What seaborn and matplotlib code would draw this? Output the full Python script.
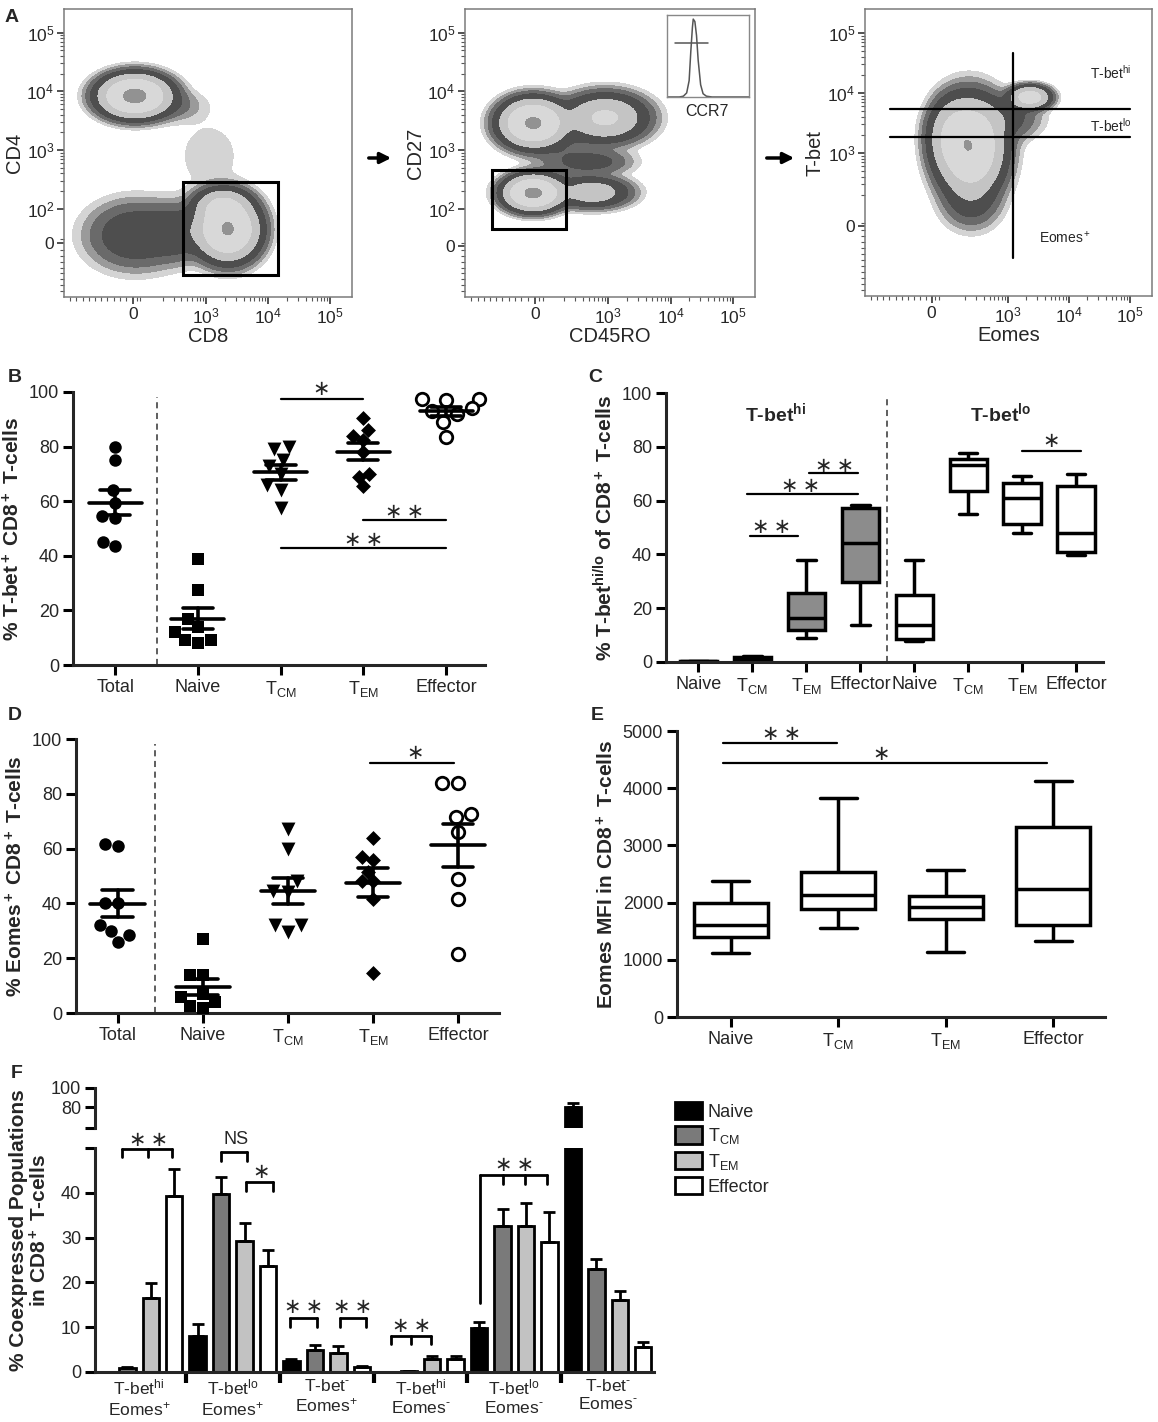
import numpy as np
import pandas as pd
import matplotlib
matplotlib.use("Agg")
import matplotlib.pyplot as plt
import seaborn as sns
from matplotlib.patches import Rectangle, Patch, FancyArrowPatch

sns.set_style("ticks")
plt.rcParams['font.family'] = ['Liberation Sans', 'DejaVu Sans']
plt.rcParams['mathtext.fontset'] = 'custom'
plt.rcParams['mathtext.rm'] = 'Liberation Sans'
plt.rcParams['mathtext.it'] = 'Liberation Sans:italic'
plt.rcParams['mathtext.bf'] = 'Liberation Sans:bold'
plt.rcParams['mathtext.default'] = 'regular'

W, H = 1158, 1422

# ---------------- data: panel A (flow populations, decade units) ----------------
a1_x = [1.85, 1.85, 3.35, 3.25, 2.55, 3.05, 2.5]
a1_y = [3.92, 1.55, 1.65, 2.05, 1.6, 2.9, 3.75]
a1_sx = [0.27, 0.4, 0.24, 0.22, 0.28, 0.38, 0.28]
a1_sy = [0.17, 0.3, 0.25, 0.15, 0.25, 0.45, 0.15]
a1_pk = [1.0, 0.07, 0.85, 0.25, 0.06, 0.005, 0.015]

a2_x = [1.8, 2.95, 1.8, 2.75, 2.8, 2.3]
a2_y = [3.46, 3.55, 2.27, 2.28, 2.8, 2.9]
a2_sx = [0.25, 0.33, 0.22, 0.3, 0.32, 0.3]
a2_sy = [0.19, 0.2, 0.14, 0.13, 0.12, 0.3]
a2_pk = [0.9, 0.3, 0.95, 0.18, 0.04, 0.02]

a3_x = [2.39, 3.36, 2.95, 2.4, 2.1]
a3_y = [3.1, 3.93, 3.6, 2.2, 3.3]
a3_sx = [0.26, 0.16, 0.3, 0.25, 0.2]
a3_sy = [0.38, 0.09, 0.2, 0.25, 0.3]
a3_pk = [0.75, 0.45, 0.05, 0.04, 0.2]

ccr7_x = [0, 15, 20, 24, 27, 29, 31, 32, 34, 36, 38, 41, 44, 48, 55, 100]
ccr7_y = [0, 0, 1, 5, 20, 55, 85, 95, 92, 75, 45, 15, 4, 1, 0, 0]

# ---------------- data: panel B / D (per donor %) ----------------
cats5 = ['Total', 'Naive', 'TCM', 'TEM', 'Effector']
cat5_labels = ['Total', 'Naive', 'T$_{CM}$', 'T$_{EM}$', 'Effector']
b_total = [80, 75, 64, 59.5, 54.5, 54, 43.5, 45]
b_naive = [39, 27.5, 17, 14, 12, 9, 9, 8]
b_tcm = [80, 79, 75, 73, 70, 66, 64, 57.5]
b_tem = [90.5, 86, 84, 82.5, 78, 70, 69, 65.5]
b_eff = [97.5, 97.5, 97, 94, 93, 92, 89, 83.5]

d_total = [61, 61.5, 40, 40, 30, 28.5, 26, 32]
d_naive = [27, 14, 14, 7, 6, 4, 2.5, 2]
d_tcm = [67, 60, 48, 44.5, 44, 32, 32, 29.5]
d_tem = [64, 57, 56, 51.5, 48, 48, 41.5, 14.5]
d_eff = [84, 84, 72.5, 71.5, 66, 49, 41.5, 21.5]

# ---------------- data: panel C (box five-number summaries) ----------------
c_cats = ['hi_Naive', 'hi_TCM', 'hi_TEM', 'hi_Eff', 'lo_Naive', 'lo_TCM', 'lo_TEM', 'lo_Eff']
c_labels = ['Naive', 'T$_{CM}$', 'T$_{EM}$', 'Effector'] * 2
c_min = [0.1, 0.8, 9, 13.7, 7.8, 54.9, 47.8, 39.8]
c_q1 = [0.15, 1.2, 12, 29.8, 8.7, 63.6, 51.3, 41]
c_med = [0.2, 1.5, 16.5, 44.1, 13.7, 73.3, 60.9, 47.8]
c_q3 = [0.25, 1.9, 25.5, 57.1, 24.8, 75.4, 66.7, 65.5]
c_max = [0.3, 2.3, 37.9, 58.4, 38.1, 77.6, 69.2, 69.9]

# ---------------- data: panel E (Eomes MFI five-number summaries) ----------------
e_cats = ['Naive', 'TCM', 'TEM', 'Effector']
e_labels = ['Naive', 'T$_{CM}$', 'T$_{EM}$', 'Effector']
e_min = [1116, 1552, 1128, 1337]
e_q1 = [1395, 1884, 1709, 1605]
e_med = [1610, 2134, 1930, 2233]
e_q3 = [2000, 2541, 2116, 3326]
e_max = [2378, 3820, 2570, 4128]

# ---------------- data: panel F (mean + SEM) ----------------
f_groups = ['hiE+', 'loE+', 'negE+', 'hiE-', 'loE-', 'negE-']
f_labels = ['T-bet$^{hi}$\nEomes$^{+}$', 'T-bet$^{lo}$\nEomes$^{+}$', 'T-bet$^{\u2010}$\nEomes$^{+}$',
            'T-bet$^{hi}$\nEomes$^{\u2010}$', 'T-bet$^{lo}$\nEomes$^{\u2010}$', 'T-bet$^{\u2010}$\nEomes$^{\u2010}$']
f_cells = ['Naive', 'T$_{CM}$', 'T$_{EM}$', 'Effector']
f_naive_mean = [0.1, 8.1, 2.5, 0.05, 9.9, 80]
f_naive_sem = [0, 2.6, 0.3, 0, 1.3, 4]
f_tcm_mean = [1.0, 39.7, 4.9, 0.15, 32.6, 23.1]
f_tcm_sem = [0.2, 3.9, 1.1, 0.05, 3.7, 2.1]
f_tem_mean = [16.5, 29.2, 4.3, 3.0, 32.6, 16.0]
f_tem_sem = [3.3, 4.1, 1.5, 0.6, 5.2, 2.0]
f_eff_mean = [39.3, 23.6, 1.1, 2.8, 29.0, 5.6]
f_eff_sem = [6.0, 3.7, 0.2, 0.7, 6.7, 1.2]
f_colors = ['black', '#7a7a7a', '#c2c2c2', 'white']

STAR = dict(family='DejaVu Sans', fontsize=15, ha='center', va='center')
S1 = '\u2217'
S2 = '\u2217\u2009\u2217'
LW = 2.2

fig = plt.figure(figsize=(W / 100, H / 100), dpi=100)


def px_axes(x0, y0, x1, y1):
    return fig.add_axes([x0 / W, 1 - y1 / H, (x1 - x0) / W, (y1 - y0) / H])


def flow_panel(ax, xs, ys, sx, sy, pk, xlim, ylim, zx, zy, ylabels):
    gx = np.linspace(xlim[0], xlim[1], 400)
    gy = np.linspace(ylim[0], ylim[1], 400)
    X, Y = np.meshgrid(gx, gy)
    Z = np.zeros_like(X)
    for x, y, a, b, p in zip(xs, ys, sx, sy, pk):
        Z += p * np.exp(-0.5 * (((X - x) / a) ** 2 + ((Y - y) / b) ** 2))
    ax.contourf(X, Y, Z, levels=[0.003, 0.007, 0.014, 0.03, 0.09, 0.25, 0.8, 100],
                colors=['#d4d4d4', '#9a9a9a', '#6a6a6a', '#4e4e4e', '#c4c4c4', '#d8d8d8', '#929292'])
    ax.set_xlim(xlim)
    ax.set_ylim(ylim)
    for s in ax.spines.values():
        s.set_color('#7a7a7a')
        s.set_linewidth(1.1)
    ax.set_xticks([zx, 3, 4, 5], ['0', '$10^3$', '$10^4$', '$10^5$'])
    yt = [zy] + [k for k in [2, 3, 4, 5] if ('$10^%d$' % k) in ylabels]
    ax.set_yticks(yt, ['0'] + [l for l in ylabels])
    minor_x = [d + np.log10(k) for d in [2, 3, 4] for k in range(2, 10)]
    minor_x += list(np.arange(xlim[0] + 0.1, zx - 0.05, 0.1)) + [zx + 0.06, zx + 0.12]
    minor_y = [d + np.log10(k) for d in [2, 3, 4] for k in range(2, 10) if d + np.log10(k) > zy + 0.1]
    minor_y += list(np.arange(ylim[0] + 0.1, zy - 0.05, 0.1)) + [zy + 0.06]
    ax.set_xticks(minor_x, minor=True)
    ax.set_yticks(minor_y, minor=True)
    ax.tick_params(which='major', length=5, width=1.2, color='#333333', labelsize=12.5, pad=2)
    ax.tick_params(which='minor', length=3, width=0.8, color='#555555')


# ---------------- panel A ----------------
axA1 = px_axes(64, 9, 352, 297)
flow_panel(axA1, a1_x, a1_y, a1_sx, a1_sy, a1_pk, (0.71, 5.35), (0.5, 5.4), 1.82, 1.42,
           ['$10^2$', '$10^3$', '$10^4$', '$10^5$'])
axA1.add_patch(Rectangle((2.63, 0.88), 4.15 - 2.63, 2.45 - 0.88, fill=False, lw=2.2, ec='black'))
axA1.set_xlabel('CD8', fontsize=14.5, labelpad=0)
axA1.set_ylabel('CD4', fontsize=14.5, labelpad=2)

axA2 = px_axes(465, 9, 755, 297)
flow_panel(axA2, a2_x, a2_y, a2_sx, a2_sy, a2_pk, (0.71, 5.35), (0.5, 5.4), 1.83, 1.36,
           ['$10^2$', '$10^3$', '$10^4$', '$10^5$'])
axA2.add_patch(Rectangle((1.14, 1.66), 2.33 - 1.14, 2.66 - 1.66, fill=False, lw=2.2, ec='black'))
axA2.set_xlabel('CD45RO', fontsize=14.5, labelpad=0)
axA2.set_ylabel('CD27', fontsize=14.5, labelpad=2)

axIn = px_axes(667, 15, 749, 97)
sns.lineplot(x=ccr7_x, y=ccr7_y, color='#555555', lw=1.1, ax=axIn)
axIn.plot([10, 50], [66, 66], color='#555555', lw=1.1)
axIn.set_xlim(0, 100)
axIn.set_ylim(0, 100)
axIn.set_xticks([])
axIn.set_yticks([])
for s in axIn.spines.values():
    s.set_color('#888888')
    s.set_linewidth(1)
fig.text(707 / W, 1 - 112 / H, 'CCR7', fontsize=11.5, ha='center', va='center')

axA3 = px_axes(865, 9, 1152, 296)
flow_panel(axA3, a3_x, a3_y, a3_sx, a3_sy, a3_pk, (0.66, 5.36), (0.62, 5.4), 1.75, 1.78,
           ['$10^3$', '$10^4$', '$10^5$'])
axA3.plot([3.08, 3.08], [1.26, 4.67], color='black', lw=1.6)
axA3.plot([1.07, 5.0], [3.73, 3.73], color='black', lw=1.6)
axA3.plot([1.07, 5.0], [3.26, 3.26], color='black', lw=1.6)
axA3.text(4.69, 4.34, 'T-bet$^{hi}$', fontsize=10, ha='center', va='center')
axA3.text(4.69, 3.46, 'T-bet$^{lo}$', fontsize=10, ha='center', va='center')
axA3.text(3.93, 1.6, 'Eomes$^+$', fontsize=10, ha='center', va='center')
axA3.set_xlabel('Eomes', fontsize=14.5, labelpad=0)
axA3.set_ylabel('T-bet', fontsize=14.5, labelpad=2)

for xa, xb in [(366, 394), (764, 797)]:
    fig.add_artist(FancyArrowPatch((xa / W, 1 - 158 / H), (xb / W, 1 - 158 / H),
                                   transform=fig.transFigure, arrowstyle='-|>',
                                   mutation_scale=16, lw=2.5, color='black'))


def style_axes(ax):
    sns.despine(ax=ax)
    ax.spines['left'].set_linewidth(LW)
    ax.spines['bottom'].set_linewidth(LW)
    ax.tick_params(length=7, width=LW, labelsize=13, pad=3, color='black')


def sig_line(ax, x0, x1, y, text, tx, ty):
    ax.plot([x0, x1], [y, y], color='black', lw=1.6, clip_on=False)
    ax.text(tx, ty, text, clip_on=False, **STAR)


def scatter_panel(ax, groups, dash_x, ylabel):
    df = pd.DataFrame({'cat': np.repeat(cats5, [len(g) for g in groups]),
                       'val': np.concatenate(groups)})
    styles = [('o', 'black', 'black', 0, 9.0), ('s', 'black', 'black', 0, 9.0),
              ('v', 'black', 'black', 0, 10.0), ('D', 'black', 'black', 0, 7.6),
              ('o', 'white', 'black', 2.0, 9.0)]
    for cat, (mk, fc, ec, lw, sz) in zip(cats5, styles):
        sub = df[df.cat == cat]
        sns.swarmplot(data=sub, x='cat', y='val', order=cats5, marker=mk, color=fc,
                      edgecolor=ec, linewidth=lw, size=sz, ax=ax, zorder=3)
    stats = df.groupby('cat')['val'].agg(['mean', 'sem']).reindex(cats5)
    for i, (m, se) in enumerate(zip(stats['mean'], stats['sem'])):
        ax.plot([i - 0.32, i + 0.32], [m, m], color='black', lw=LW + 0.4, zorder=4)
        ax.plot([i - 0.18, i + 0.18], [m + se, m + se], color='black', lw=LW + 0.4, zorder=4)
        ax.plot([i - 0.18, i + 0.18], [m - se, m - se], color='black', lw=LW + 0.4, zorder=4)
        ax.plot([i, i], [m - se, m + se], color='black', lw=LW + 0.4, zorder=4)
    for c in ax.collections:
        c.set_clip_on(False)
    ax.axvline(dash_x, ymin=0, ymax=0.98, color='#333333', lw=1.1, ls=(0, (4, 3)))
    ax.set_ylim(0, 100)
    ax.set_yticks([0, 20, 40, 60, 80, 100])
    ax.set_xticks(range(5), cat5_labels)
    ax.set_xlabel('')
    ax.set_ylabel(ylabel, fontsize=15, fontweight='bold', labelpad=4)
    style_axes(ax)


# ---------------- panel B ----------------
axB = px_axes(73, 392, 485, 665)
scatter_panel(axB, [b_total, b_naive, b_tcm, b_tem, b_eff], 0.5, '% T-bet$^+$ CD8$^+$ T-cells')
axB.set_xlim(-0.51, 4.47)
sig_line(axB, 2.0, 3.0, 97.6, S1, 2.49, 101)
sig_line(axB, 3.0, 4.0, 53.2, S2, 3.5, 56.2)
sig_line(axB, 2.0, 4.0, 42.8, S2, 3.0, 45.8)

# ---------------- panel D ----------------
axD = px_axes(76, 739, 499, 1013)
scatter_panel(axD, [d_total, d_naive, d_tcm, d_tem, d_eff], 0.44, '% Eomes$^+$ CD8$^+$ T-cells')
axD.set_xlim(-0.49, 4.48)
sig_line(axD, 2.96, 3.95, 91.2, S1, 3.5, 94.9)


def box_panel(ax, cats, mins, q1, med, q3, maxs, colors):
    df = pd.DataFrame({'cat': np.repeat(cats, 5),
                       'val': np.column_stack([mins, q1, med, q3, maxs]).ravel()})
    sns.boxplot(data=df, x='cat', y='val', order=cats, hue='cat', hue_order=cats,
                palette=dict(zip(cats, colors)), whis=(0, 100), width=0.69,
                linewidth=LW + 0.3, linecolor='black', fliersize=0, legend=False, ax=ax)
    ax.set_xlabel('')
    style_axes(ax)


# ---------------- panel C ----------------
axC = px_axes(666, 393, 1103, 662)
box_panel(axC, c_cats, c_min, c_q1, c_med, c_q3, c_max, ['#8c8c8c'] * 4 + ['white'] * 4)
axC.set_xlim(-0.6, 7.5)
axC.set_ylim(0, 100)
axC.set_yticks([0, 20, 40, 60, 80, 100])
axC.set_xticks(range(8), c_labels)
axC.axvline(3.5, ymin=0, ymax=0.98, color='#333333', lw=1.1, ls=(0, (4, 3)))
axC.set_ylabel('% T-bet$^{hi/lo}$ of CD8$^+$ T-cells', fontsize=15, fontweight='bold', labelpad=4)
axC.text(1.43, 92.5, 'T-bet$^{hi}$', fontsize=14, fontweight='bold', ha='center', va='center')
axC.text(5.6, 92.5, 'T-bet$^{lo}$', fontsize=14, fontweight='bold', ha='center', va='center')
sig_line(axC, 0.95, 1.85, 47, S2, 1.36, 50.3)
sig_line(axC, 0.9, 2.95, 62.4, S2, 1.89, 65.5)
sig_line(axC, 2.05, 2.96, 70.2, S2, 2.52, 72.9)
sig_line(axC, 6.0, 7.09, 78.5, S1, 6.54, 82)

# ---------------- panel E ----------------
axE = px_axes(677, 731, 1105, 1017)
box_panel(axE, e_cats, e_min, e_q1, e_med, e_q3, e_max, ['white'] * 4)
axE.set_xlim(-0.5, 3.48)
axE.set_ylim(0, 5000)
axE.set_yticks([0, 1000, 2000, 3000, 4000, 5000])
axE.set_xticks(range(4), e_labels)
axE.set_ylabel('Eomes MFI in CD8$^+$ T-cells', fontsize=15, fontweight='bold', labelpad=4)
sig_line(axE, -0.07, 0.99, 4791, S2, 0.47, 4953)
sig_line(axE, -0.07, 2.94, 4448, S1, 1.4, 4605)

# ---------------- panel F ----------------
f_means = [f_naive_mean, f_tcm_mean, f_tem_mean, f_eff_mean]
f_sems = [f_naive_sem, f_tcm_sem, f_tem_sem, f_eff_sem]
dfF = pd.DataFrame({'group': np.tile(f_groups, 4),
                    'cell': np.repeat(f_cells, len(f_groups)),
                    'mean': np.concatenate(f_means)})

axFl = px_axes(95, 1148, 654, 1372)
axFu = px_axes(95, 1088, 654, 1128)
offsets = (np.arange(4) - 1.5) * 0.25
for ax in (axFl, axFu):
    sns.barplot(data=dfF, x='group', y='mean', hue='cell', order=f_groups, hue_order=f_cells,
                palette=dict(zip(f_cells, f_colors)), width=1.0, gap=0.3, edgecolor='black',
                linewidth=2.0, errorbar=None, legend=False, ax=ax)
    for j in range(4):
        xs = np.arange(len(f_groups)) + offsets[j]
        ax.errorbar(xs, f_means[j], yerr=[np.zeros(len(f_groups)), f_sems[j]], fmt='none',
                    ecolor='black', elinewidth=2.0, capsize=4, capthick=2.0)
    ax.set_xlim(-0.47, 5.49)
    ax.set_xlabel('')
    ax.set_ylabel('')
    style_axes(ax)

axFl.set_ylim(0, 50)
axFl.set_yticks([0, 10, 20, 30, 40, 50], ['0', '10', '20', '30', '40', ''])
axFl.set_xticks(range(6), f_labels)
axFl.set_xticks(np.arange(0.5, 5, 1), minor=True)
axFl.tick_params(axis='x', which='major', length=0, labelsize=12.5, pad=4)
axFl.tick_params(axis='x', which='minor', length=8, width=3, color='black')
axFl.spines['left'].set_bounds(0, 50)

axFu.set_ylim(58.6, 100)
axFu.set_yticks([58.6, 80, 100], ['', '80', '100'])
axFu.set_xticks([])
axFu.spines['bottom'].set_visible(False)

fig.text(30 / W, 1 - 1230 / H, '% Coexpressed Populations\nin CD8$^+$ T-cells', rotation=90,
         fontsize=15, fontweight='bold', ha='center', va='center', multialignment='center',
         linespacing=1.05)


def bracket(ax, legs, top, bottoms, text, tx, ty):
    ax.plot([legs[0], legs[-1]], [top, top], color='black', lw=2.0, clip_on=False)
    for lx, lb in zip(legs, bottoms):
        ax.plot([lx, lx], [top, lb], color='black', lw=2.0, clip_on=False)
    if text == 'NS':
        ax.text(tx, ty, text, fontsize=13, ha='center', va='center', clip_on=False)
    else:
        ax.text(tx, ty, text, clip_on=False, **STAR)


bracket(axFl, [-0.18, 0.1, 0.35], 49.7, [47.9] * 3, S2, 0.1, 51.8)
bracket(axFl, [1 - 0.126, 1.15], 49.2, [47.2] * 2, 'NS', 1.03, 51.8)
bracket(axFl, [1.14, 1.43], 42.5, [40.5] * 2, S1, 1.3, 44.7)
bracket(axFl, [2 - 0.39, 2 - 0.1], 12.1, [10.1] * 2, S2, 2 - 0.25, 14.4)
bracket(axFl, [2.14, 2.42], 12.1, [10.1] * 2, S2, 2.28, 14.4)
bracket(axFl, [3 - 0.31, 3 - 0.1, 3.11], 8.1, [6.3] * 3, S2, 3 - 0.1, 10.2)
bracket(axFl, [4 - 0.36, 4 - 0.12, 4.11, 4.35], 44, [15.5, 42, 42, 42], S2, 4.0, 46.3)

handles = [Patch(facecolor=c, edgecolor='black', linewidth=2.0, label=l) for c, l in zip(f_colors, f_cells)]
fig.legend(handles=handles, loc='upper left', bbox_to_anchor=(675 / W, 1 - 1102 / H),
           frameon=False, fontsize=13, handlelength=1.5, handleheight=1.1,
           labelspacing=0.3, handletextpad=0.3, borderpad=0, borderaxespad=0)

# ---------------- panel letters ----------------
for letter, (lx, ly) in {'A': (12, 18), 'B': (15, 378), 'C': (595, 378), 'D': (15, 715),
                         'E': (597, 715), 'F': (17, 1073)}.items():
    fig.text(lx / W, 1 - ly / H, letter, fontsize=14, fontweight='bold', ha='center', va='center')

fig.savefig('out.png', dpi=100)
